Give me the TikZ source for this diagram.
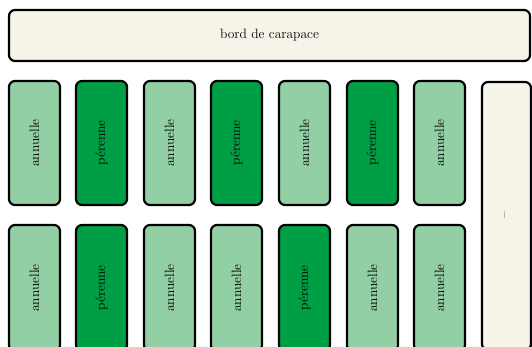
\documentclass[tikz,border=0pt]{standalone}
\usetikzlibrary{decorations.pathmorphing}
\definecolor{lightg}{HTML}{92CFA5}
\definecolor{darkg}{HTML}{009E45}
\definecolor{cream}{HTML}{F6F4E8}
\tikzset{
  bed/.style={draw=black, line width=2.2pt, rounded corners=6pt},
  ann/.style={bed, fill=lightg},
  per/.style={bed, fill=darkg},
  edge/.style={bed, fill=cream},
  lbl/.style={font=\fontsize{13.5}{15}\selectfont, text=black},
}
\begin{document}
\begin{tikzpicture}[x=1pt,y=-1pt]
\useasboundingbox (0,0) rectangle (532,347);
\clip (0,0) rectangle (532,347);
\fill[white] (0,0) rectangle (532,347);
% top edge
\draw[edge] (9,10) rectangle (530,61);
\node[lbl] (top) at (269.5,35.5) {bord de carapace};
% right tall box
\draw[edge] (482,82) rectangle (531,350);
\node[lbl, rotate=90] (side) at (506,215) {--};
% row 1
\foreach \x/\t [count=\i] in {9/ann,76/per,144/ann,211/per,279/ann,347/per,414/ann}{
  \draw[\t] (\x,81) rectangle ++(51,124);
}
\foreach \x/\w [count=\i] in {9/annuelle,76/pérenne,144/annuelle,211/pérenne,279/annuelle,347/pérenne,414/annuelle}{
  \node[lbl, rotate=90] (a\i) at (\x+25.5,143) {\w};
}
% row 2
\foreach \x/\t [count=\i] in {9/ann,76/per,144/ann,211/ann,279/per,347/ann,414/ann}{
  \draw[\t] (\x,225) rectangle ++(51,126);
}
\foreach \x/\w [count=\i] in {9/annuelle,76/pérenne,144/annuelle,211/annuelle,279/pérenne,347/annuelle,414/annuelle}{
  \node[lbl, rotate=90] (b\i) at (\x+25.5,288) {\w};
}
\end{tikzpicture}
\end{document}
